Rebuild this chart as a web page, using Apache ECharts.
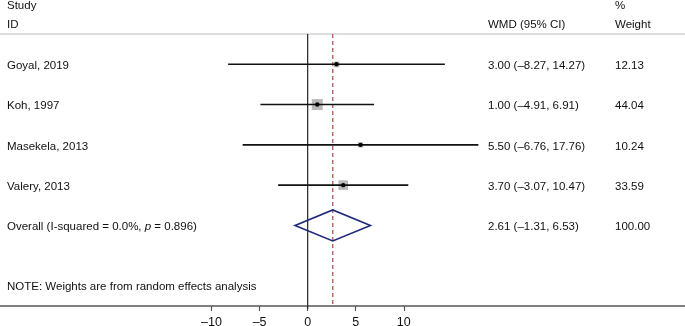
<!DOCTYPE html>
<html>
<head>
<meta charset="utf-8">
<script src="https://cdn.jsdelivr.net/npm/echarts@6/dist/echarts.min.js"></script>
<style>
  html, body { margin: 0; padding: 0; background: #fff; }
  #main { width: 685px; height: 326px; }
</style>
</head>
<body>
<div id="main"></div>
<script>
// study rows
const studies = ['Goyal, 2019', 'Koh, 1997', 'Masekela, 2013', 'Valery, 2013'];
const wmd = [3.00, 1.00, 5.50, 3.70];
const ciLow = [-8.27, -4.91, -6.76, -3.07];
const ciHigh = [14.27, 6.91, 17.76, 10.47];
const weights = [12.13, 44.04, 10.24, 33.59];

// pooled estimate
const overallEst = [2.61, -1.31, 6.53];
const overallWeight = 100.00;
const iSquared = '0.0%';
const pValue = '0.896';

const xTicks = [-10, -5, 0, 5, 10];
const note = 'NOTE: Weights are from random effects analysis';

const FONT = '"Liberation Sans", Arial, Helvetica, sans-serif';
const FS = 11.5;
const COL_NAME = 7, COL_CI = 488, COL_W = 615;

const dash = v => (v < 0 ? '\u2013' + Math.abs(v).toFixed(2) : v.toFixed(2));
const ciText = (e, l, h) => e.toFixed(2) + ' (' + dash(l) + ', ' + dash(h) + ')';

const txt = (x, y, s, extra) => ({
  type: 'text', x: x, y: y,
  style: Object.assign({ text: s, fill: '#111', font: FS + 'px ' + FONT, textVerticalAlign: 'middle' }, extra || {})
});

const dom = document.getElementById('main');
const chart = echarts.init(dom, null, { renderer: 'canvas' });

const studyData = studies.map((s, i) => [i + 1, wmd[i], ciLow[i], ciHigh[i], weights[i]]);

const option = {
  animation: false,
  grid: { left: 0, right: 0, top: 24, bottom: 20, containLabel: false, outerBoundsMode: 'none' },
  xAxis: {
    type: 'value',
    position: 'bottom',
    min: -32, max: 39.25,
    splitLine: { show: false },
    axisLine: { show: true, onZero: false, lineStyle: { color: '#555', width: 1.5 } },
    axisTick: { show: true, customValues: xTicks, length: 5, lineStyle: { color: '#555', width: 1.2 } },
    axisLabel: {
      customValues: xTicks, margin: 10, color: '#111', fontSize: 12.5, fontFamily: FONT,
      formatter: v => (v < 0 ? '\u2013' + Math.abs(v) : String(v))
    }
  },
  yAxis: { type: 'value', min: 0, max: 7, inverse: true, show: false },
  graphic: [
    txt(COL_NAME, 6, 'Study'),
    txt(COL_NAME, 25, 'ID'),
    txt(COL_CI, 25, 'WMD (95% CI)'),
    txt(COL_W, 6, '%'),
    txt(COL_W, 25, 'Weight'),
    { type: 'line', shape: { x1: 0, y1: 34, x2: 685, y2: 34 }, style: { stroke: '#bbb', lineWidth: 1 } }
  ],
  series: [
    {
      // null line and pooled-estimate line
      type: 'custom',
      data: [[0, 0], [overallEst[0], 1]],
      renderItem: (params, api) => {
        const top = api.coord([api.value(0), 0.25]);
        const bot = api.coord([api.value(0), 7]);
        const dashed = api.value(1) === 1;
        return {
          type: 'line',
          shape: { x1: top[0], y1: top[1], x2: bot[0], y2: bot[1] + (dashed ? 0 : 3) },
          style: dashed
            ? { stroke: '#b86a66', lineWidth: 1.5, lineDash: [4, 3] }
            : { stroke: '#333', lineWidth: 1.3 }
        };
      }
    },
    {
      type: 'custom',
      data: studyData,
      renderItem: (params, api) => {
        const row = api.value(0);
        const c = api.coord([api.value(1), row]);
        const lo = api.coord([api.value(2), row]);
        const hi = api.coord([api.value(3), row]);
        const w = api.value(4);
        const sz = 11 * Math.sqrt(w / 44.04);
        const i = params.dataIndex;
        return {
          type: 'group',
          children: [
            { type: 'rect', shape: { x: c[0] - sz / 2, y: c[1] - sz / 2, width: sz, height: sz }, style: { fill: '#bababa' } },
            { type: 'line', shape: { x1: lo[0], y1: c[1], x2: hi[0], y2: c[1] }, style: { stroke: '#111', lineWidth: 1.6 } },
            { type: 'circle', shape: { cx: c[0], cy: c[1], r: 2.2 }, style: { fill: '#000' } },
            txt(COL_NAME, c[1] + 1.5, studies[i]),
            txt(COL_CI, c[1] + 1.5, ciText(wmd[i], ciLow[i], ciHigh[i])),
            txt(COL_W, c[1] + 1.5, w.toFixed(2))
          ]
        };
      }
    },
    {
      type: 'custom',
      data: [[5, overallEst[0], overallEst[1], overallEst[2], overallWeight]],
      renderItem: (params, api) => {
        const row = api.value(0);
        const c = api.coord([api.value(1), row]);
        const lo = api.coord([api.value(2), row]);
        const hi = api.coord([api.value(3), row]);
        const h = 15.5;
        return {
          type: 'group',
          children: [
            {
              type: 'polygon',
              shape: { points: [[lo[0], c[1]], [c[0], c[1] - h], [hi[0], c[1]], [c[0], c[1] + h]] },
              style: { fill: 'none', stroke: '#1f2a7a', lineWidth: 1.6 }
            },
            {
              type: 'text', x: COL_NAME, y: c[1] + 1.5,
              style: {
                text: '{n|Overall (I-squared = ' + iSquared + ', }{i|p}{n| = ' + pValue + ')}',
                textVerticalAlign: 'middle',
                rich: {
                  n: { fontSize: FS, fontFamily: FONT, fill: '#111' },
                  i: { fontSize: FS, fontFamily: FONT, fontStyle: 'italic', fill: '#111' }
                }
              }
            },
            txt(COL_CI, c[1] + 1.5, ciText(overallEst[0], overallEst[1], overallEst[2])),
            txt(COL_W, c[1] + 1.5, api.value(4).toFixed(2)),
            txt(COL_NAME, api.coord([0, 6.53])[1], note)
          ]
        };
      }
    }
  ]
};

chart.setOption(option, true);
</script>
</body>
</html>
